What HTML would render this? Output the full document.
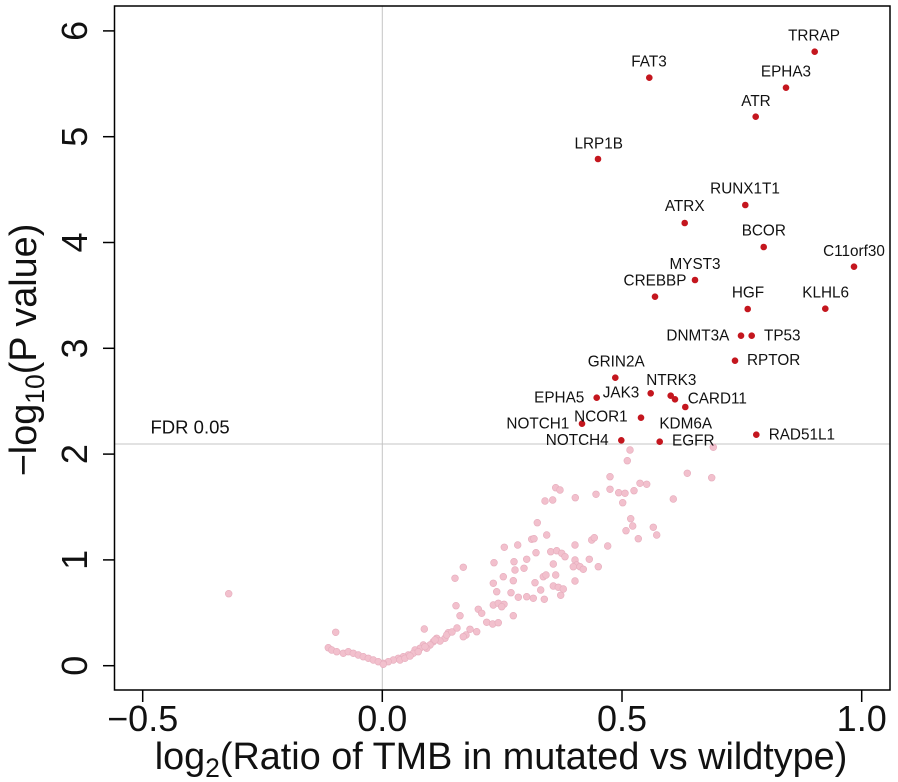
<!DOCTYPE html>
<html>
<head>
<meta charset="utf-8">
<style>
html,body{margin:0;padding:0;background:#fff;}
svg{display:block;}
text{font-family:"Liberation Sans",Arial,sans-serif;fill:#111;}
</style>
</head>
<body>
<svg width="898" height="782" viewBox="0 0 898 782" xmlns="http://www.w3.org/2000/svg">
<rect x="0" y="0" width="898" height="782" fill="#fff"/>
<!-- reference lines -->
<line x1="382.3" y1="6" x2="382.3" y2="690" stroke="#c4c4c4" stroke-width="1"/>
<line x1="114.5" y1="444" x2="890" y2="444" stroke="#c4c4c4" stroke-width="1"/>
<text x="150.5" y="433.3" font-size="18.5">FDR 0.05</text>

<!-- pink points -->
<g fill="#f2c0cd" stroke="#e6adbd" stroke-width="0.6">
<circle cx="630" cy="450" r="3.4"/><circle cx="627.3" cy="460.7" r="3.4"/><circle cx="713.3" cy="447.3" r="3.4"/><circle cx="610" cy="476.7" r="3.4"/><circle cx="687.3" cy="473.3" r="3.4"/><circle cx="711.7" cy="477.7" r="3.4"/><circle cx="555.7" cy="487.7" r="3.4"/><circle cx="560" cy="490" r="3.4"/><circle cx="610" cy="489.3" r="3.4"/><circle cx="618.7" cy="492.7" r="3.4"/><circle cx="625" cy="493.3" r="3.4"/><circle cx="634" cy="490.7" r="3.4"/><circle cx="640" cy="483.3" r="3.4"/><circle cx="646.7" cy="484.3" r="3.4"/><circle cx="596" cy="494.3" r="3.4"/><circle cx="575.3" cy="497.7" r="3.4"/><circle cx="545" cy="501" r="3.4"/><circle cx="552.7" cy="500" r="3.4"/><circle cx="622.7" cy="502.7" r="3.4"/><circle cx="673.3" cy="499" r="3.4"/><circle cx="537.3" cy="522.7" r="3.4"/><circle cx="630.7" cy="518.7" r="3.4"/><circle cx="632.7" cy="526" r="3.4"/><circle cx="626" cy="530.7" r="3.4"/><circle cx="653.3" cy="527.3" r="3.4"/><circle cx="656.7" cy="535" r="3.4"/><circle cx="638.3" cy="538.7" r="3.4"/><circle cx="546.7" cy="535" r="3.4"/><circle cx="591.7" cy="540" r="3.4"/><circle cx="594.3" cy="537.7" r="3.4"/><circle cx="607.7" cy="546" r="3.4"/><circle cx="575" cy="545" r="3.4"/><circle cx="531.7" cy="539.3" r="3.4"/><circle cx="534" cy="538.7" r="3.4"/><circle cx="517.7" cy="545" r="3.4"/><circle cx="504.3" cy="547.3" r="3.4"/><circle cx="536" cy="552.7" r="3.4"/><circle cx="550.7" cy="551.7" r="3.4"/><circle cx="556.7" cy="550.7" r="3.4"/><circle cx="561.7" cy="553.3" r="3.4"/><circle cx="565" cy="556.7" r="3.4"/><circle cx="589.3" cy="559.3" r="3.4"/><circle cx="598.3" cy="566.7" r="3.4"/><circle cx="575" cy="560" r="3.4"/><circle cx="576.7" cy="565" r="3.4"/><circle cx="580" cy="566.7" r="3.4"/><circle cx="583.3" cy="569.3" r="3.4"/><circle cx="573.3" cy="566.7" r="3.4"/><circle cx="553.3" cy="564" r="3.4"/><circle cx="526.7" cy="559.3" r="3.4"/><circle cx="514" cy="561.7" r="3.4"/><circle cx="494" cy="562.7" r="3.4"/><circle cx="515" cy="570" r="3.4"/><circle cx="524" cy="568.3" r="3.4"/><circle cx="463.3" cy="567.3" r="3.4"/><circle cx="455" cy="578.3" r="3.4"/><circle cx="503.3" cy="576.7" r="3.4"/><circle cx="493.3" cy="583.3" r="3.4"/><circle cx="513.3" cy="580.7" r="3.4"/><circle cx="535" cy="582.7" r="3.4"/><circle cx="543.3" cy="576.7" r="3.4"/><circle cx="546" cy="575" r="3.4"/><circle cx="555.7" cy="575" r="3.4"/><circle cx="575" cy="581" r="3.4"/><circle cx="553.3" cy="586" r="3.4"/><circle cx="558.3" cy="587.3" r="3.4"/><circle cx="563.3" cy="589" r="3.4"/><circle cx="540.7" cy="590" r="3.4"/><circle cx="560.7" cy="595.3" r="3.4"/><circle cx="496.7" cy="591.7" r="3.4"/><circle cx="511" cy="592.7" r="3.4"/><circle cx="518.3" cy="597.3" r="3.4"/><circle cx="526.7" cy="596.7" r="3.4"/><circle cx="533.3" cy="598.3" r="3.4"/><circle cx="544.3" cy="599.3" r="3.4"/><circle cx="456" cy="605.7" r="3.4"/><circle cx="460" cy="615.7" r="3.4"/><circle cx="478.3" cy="609.3" r="3.4"/><circle cx="481.7" cy="613.3" r="3.4"/><circle cx="493.3" cy="605" r="3.4"/><circle cx="498.3" cy="603.3" r="3.4"/><circle cx="504" cy="604.3" r="3.4"/><circle cx="501.7" cy="606.7" r="3.4"/><circle cx="513.3" cy="615.7" r="3.4"/><circle cx="486.7" cy="622.3" r="3.4"/><circle cx="492.7" cy="624" r="3.4"/><circle cx="498.3" cy="622.7" r="3.4"/><circle cx="470" cy="629.3" r="3.4"/><circle cx="466" cy="635" r="3.4"/><circle cx="476.7" cy="631.7" r="3.4"/><circle cx="463.3" cy="636.7" r="3.4"/><circle cx="424.3" cy="629" r="3.4"/><circle cx="448.3" cy="632.7" r="3.4"/><circle cx="445" cy="638.3" r="3.4"/><circle cx="433.3" cy="641.7" r="3.4"/><circle cx="430" cy="645" r="3.4"/><circle cx="423.3" cy="645" r="3.4"/><circle cx="420" cy="648.3" r="3.4"/><circle cx="415" cy="650" r="3.4"/><circle cx="413.3" cy="653.3" r="3.4"/><circle cx="408.3" cy="655" r="3.4"/><circle cx="403.3" cy="656.7" r="3.4"/><circle cx="398.3" cy="658.3" r="3.4"/><circle cx="393.3" cy="660" r="3.4"/><circle cx="388.3" cy="661.7" r="3.4"/><circle cx="383.3" cy="663.3" r="3.4"/><circle cx="436.7" cy="638.3" r="3.4"/><circle cx="440" cy="641" r="3.4"/><circle cx="426.7" cy="648.3" r="3.4"/><circle cx="418.3" cy="651.7" r="3.4"/><circle cx="228.7" cy="593.7" r="3.4"/><circle cx="335.7" cy="632.3" r="3.4"/><circle cx="328.3" cy="647.7" r="3.4"/><circle cx="331.7" cy="650" r="3.4"/><circle cx="336.7" cy="651.7" r="3.4"/><circle cx="343.3" cy="653.3" r="3.4"/><circle cx="348.3" cy="651.7" r="3.4"/><circle cx="353.3" cy="653.3" r="3.4"/><circle cx="358.3" cy="655" r="3.4"/><circle cx="363.3" cy="656.7" r="3.4"/><circle cx="368.3" cy="658.3" r="3.4"/><circle cx="373.3" cy="660" r="3.4"/><circle cx="378.3" cy="661.7" r="3.4"/><circle cx="383.3" cy="664.3" r="3.4"/><circle cx="400" cy="660" r="3.4"/><circle cx="405" cy="658.3" r="3.4"/><circle cx="410" cy="656" r="3.4"/><circle cx="425" cy="646.7" r="3.4"/><circle cx="435" cy="640" r="3.4"/><circle cx="446.7" cy="635" r="3.4"/><circle cx="452" cy="632" r="3.4"/><circle cx="457" cy="628" r="3.4"/>
</g>

<!-- red points -->
<g fill="#c4161e">
<circle cx="814.7" cy="51.7" r="3.3"/><circle cx="649.3" cy="77.7" r="3.3"/><circle cx="786" cy="87.7" r="3.3"/><circle cx="755.7" cy="116.7" r="3.3"/><circle cx="598" cy="159" r="3.3"/><circle cx="745.3" cy="205" r="3.3"/><circle cx="684.7" cy="223" r="3.3"/><circle cx="763.7" cy="247" r="3.3"/><circle cx="854" cy="266.7" r="3.3"/><circle cx="695" cy="280" r="3.3"/><circle cx="655" cy="296.7" r="3.3"/><circle cx="747.7" cy="309" r="3.3"/><circle cx="825.3" cy="308.7" r="3.3"/><circle cx="741" cy="335.7" r="3.3"/><circle cx="751.7" cy="335.7" r="3.3"/><circle cx="735" cy="360.7" r="3.3"/><circle cx="615.3" cy="377.7" r="3.3"/><circle cx="650.7" cy="393.3" r="3.3"/><circle cx="670.7" cy="395.7" r="3.3"/><circle cx="675" cy="399.3" r="3.3"/><circle cx="685.3" cy="407" r="3.3"/><circle cx="596.7" cy="397.7" r="3.3"/><circle cx="641" cy="417.7" r="3.3"/><circle cx="582" cy="423.7" r="3.3"/><circle cx="621.3" cy="440.3" r="3.3"/><circle cx="659.7" cy="441.7" r="3.3"/><circle cx="756.3" cy="434.7" r="3.3"/>
</g>

<!-- gene labels -->
<g font-size="15.3">
<text x="814" y="40.5" text-anchor="middle">TRRAP</text>
<text x="649" y="66.7" text-anchor="middle">FAT3</text>
<text x="786" y="76.7" text-anchor="middle">EPHA3</text>
<text x="756" y="106" text-anchor="middle">ATR</text>
<text x="598.7" y="148.3" text-anchor="middle">LRP1B</text>
<text x="745" y="193.3" text-anchor="middle">RUNX1T1</text>
<text x="684.7" y="211" text-anchor="middle">ATRX</text>
<text x="763.8" y="235.7" text-anchor="middle">BCOR</text>
<text x="854" y="256" text-anchor="middle">C11orf30</text>
<text x="695" y="269" text-anchor="middle">MYST3</text>
<text x="655" y="285.7" text-anchor="middle">CREBBP</text>
<text x="748" y="297.7" text-anchor="middle">HGF</text>
<text x="825.7" y="297.7" text-anchor="middle">KLHL6</text>
<text x="729.3" y="340.5" text-anchor="end">DNMT3A</text>
<text x="764" y="340.5">TP53</text>
<text x="747" y="365">RPTOR</text>
<text x="616.2" y="366.7" text-anchor="middle">GRIN2A</text>
<text x="671.3" y="385" text-anchor="middle">NTRK3</text>
<text x="639.3" y="397.7" text-anchor="end">JAK3</text>
<text x="584.3" y="402.3" text-anchor="end">EPHA5</text>
<text x="687.7" y="403.3">CARD11</text>
<text x="627.7" y="421.7" text-anchor="end">NCOR1</text>
<text x="569.3" y="428.3" text-anchor="end">NOTCH1</text>
<text x="685.7" y="428.3" text-anchor="middle">KDM6A</text>
<text x="608.7" y="445" text-anchor="end">NOTCH4</text>
<text x="672" y="445.7">EGFR</text>
<text x="768.7" y="439.3">RAD51L1</text>
</g>

<!-- frame -->
<rect x="114.5" y="6" width="775.5" height="684" fill="none" stroke="#000" stroke-width="1.5"/>

<!-- y ticks -->
<g stroke="#000" stroke-width="1.5">
<line x1="103" y1="665.7" x2="114.5" y2="665.7"/>
<line x1="103" y1="559.9" x2="114.5" y2="559.9"/>
<line x1="103" y1="454.1" x2="114.5" y2="454.1"/>
<line x1="103" y1="348.3" x2="114.5" y2="348.3"/>
<line x1="103" y1="242.5" x2="114.5" y2="242.5"/>
<line x1="103" y1="136.7" x2="114.5" y2="136.7"/>
<line x1="103" y1="30.9" x2="114.5" y2="30.9"/>
<line x1="142.7" y1="690" x2="142.7" y2="702"/>
<line x1="382.3" y1="690" x2="382.3" y2="702"/>
<line x1="622" y1="690" x2="622" y2="702"/>
<line x1="861.7" y1="690" x2="861.7" y2="702"/>
</g>
<g font-size="36" text-anchor="middle">
<text transform="translate(87,665.7) rotate(-90)">0</text>
<text transform="translate(87,559.9) rotate(-90)">1</text>
<text transform="translate(87,454.1) rotate(-90)">2</text>
<text transform="translate(87,348.3) rotate(-90)">3</text>
<text transform="translate(87,242.5) rotate(-90)">4</text>
<text transform="translate(87,136.7) rotate(-90)">5</text>
<text transform="translate(87,30.9) rotate(-90)">6</text>
<text x="142.7" y="731">−0.5</text>
<text x="382.3" y="731">0.0</text>
<text x="622" y="731">0.5</text>
<text x="861.7" y="731">1.0</text>
</g>

<!-- axis titles -->
<text x="501" y="769" font-size="37.8" text-anchor="middle">log<tspan dy="8" font-size="26.5">2</tspan><tspan dy="-8">(Ratio of TMB in mutated vs wildtype)</tspan></text>
<text transform="translate(36,350) rotate(-90)" font-size="37.8" text-anchor="middle">−log<tspan dy="8" font-size="26.5">10</tspan><tspan dy="-8">(P value)</tspan></text>
</svg>
</body>
</html>
